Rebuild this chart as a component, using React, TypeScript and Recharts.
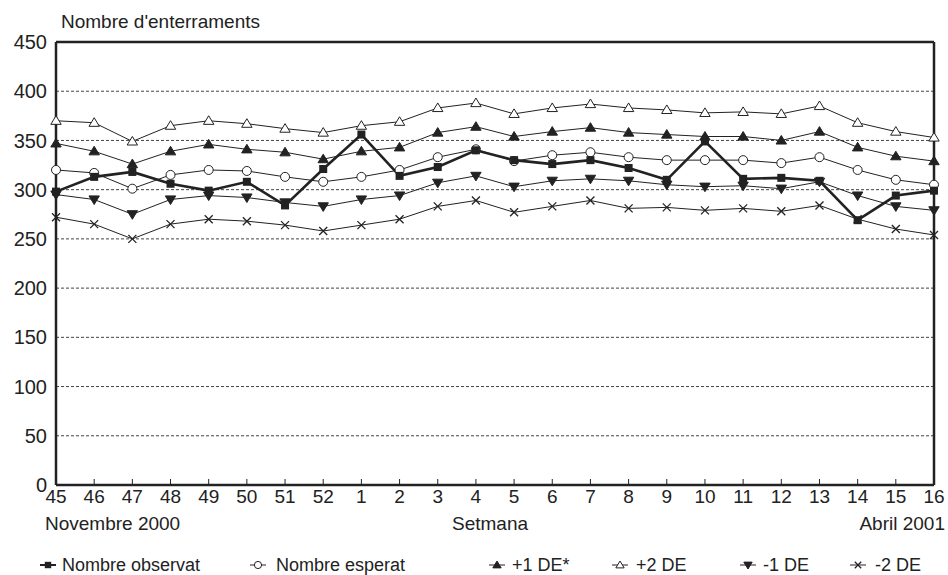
import React from "react";
import {
  LineChart,
  Line,
  XAxis,
  YAxis,
  CartesianGrid,
  ReferenceLine,
} from "recharts";

const weeks = ["45", "46", "47", "48", "49", "50", "51", "52", "1", "2", "3", "4", "5", "6", "7", "8", "9", "10", "11", "12", "13", "14", "15", "16"];
const observed = [298, 313, 318, 306, 299, 308, 284, 321, 356, 314, 323, 340, 330, 326, 330, 322, 310, 349, 311, 312, 309, 269, 294, 299];
const expected = [320, 317, 301, 315, 320, 319, 313, 308, 313, 320, 333, 341, 329, 335, 338, 333, 330, 330, 330, 327, 333, 320, 310, 305];
const plus1 = [347, 339, 326, 339, 346, 341, 338, 331, 339, 343, 358, 364, 354, 359, 363, 358, 356, 354, 354, 350, 359, 343, 334, 329];
const plus2 = [370, 368, 349, 365, 370, 367, 362, 358, 365, 369, 383, 388, 377, 383, 387, 383, 381, 378, 379, 377, 385, 368, 359, 353];
const minus1 = [295, 290, 275, 290, 294, 292, 287, 283, 290, 294, 307, 314, 303, 309, 311, 309, 305, 303, 304, 301, 308, 294, 283, 279];
const minus2 = [272, 265, 250, 265, 270, 268, 264, 258, 264, 270, 283, 289, 277, 283, 289, 281, 282, 279, 281, 278, 284, 270, 260, 254];
const yTicks = [0, 50, 100, 150, 200, 250, 300, 350, 400, 450];

const data = weeks.map((w, i) => ({
  week: w,
  observed: observed[i],
  expected: expected[i],
  plus1: plus1[i],
  plus2: plus2[i],
  minus1: minus1[i],
  minus2: minus2[i],
}));

type Kind = "square" | "circle" | "triUp" | "triUpOpen" | "triDown" | "cross";

const INK = "#222";
const FONT = "'Liberation Sans', Arial, sans-serif";

function Marker({ cx, cy, kind, s = 1 }: { cx: number; cy: number; kind: Kind; s?: number }) {
  if (cx == null || cy == null) return null;
  switch (kind) {
    case "square":
      return <rect x={cx - 4 * s} y={cy - 4 * s} width={8 * s} height={8 * s} fill={INK} />;
    case "circle":
      return <circle cx={cx} cy={cy} r={4.5 * s} fill="#fff" stroke={INK} strokeWidth={1} />;
    case "triUp":
    case "triUpOpen":
      return (
        <polygon
          points={`${cx},${cy - 5 * s} ${cx - 5.2 * s},${cy + 3.6 * s} ${cx + 5.2 * s},${cy + 3.6 * s}`}
          fill={kind === "triUp" ? INK : "#fff"}
          stroke={INK}
          strokeWidth={1}
        />
      );
    case "triDown":
      return (
        <polygon
          points={`${cx},${cy + 5 * s} ${cx - 5.2 * s},${cy - 3.6 * s} ${cx + 5.2 * s},${cy - 3.6 * s}`}
          fill={INK}
          stroke={INK}
          strokeWidth={1}
        />
      );
    case "cross":
      return (
        <path
          d={`M${cx - 4 * s},${cy - 4 * s}L${cx + 4 * s},${cy + 4 * s}M${cx + 4 * s},${cy - 4 * s}L${cx - 4 * s},${cy + 4 * s}`}
          stroke={INK}
          strokeWidth={1.3}
        />
      );
  }
  return null;
}

const dotFor = (kind: Kind) => (p: any) => <Marker key={`${kind}-${p.index}`} cx={p.cx} cy={p.cy} kind={kind} />;

const series: { key: string; name: string; kind: Kind; width: number }[] = [
  { key: "minus2", name: "-2 DE", kind: "cross", width: 1 },
  { key: "minus1", name: "-1 DE", kind: "triDown", width: 1 },
  { key: "plus2", name: "+2 DE", kind: "triUpOpen", width: 1 },
  { key: "plus1", name: "+1 DE*", kind: "triUp", width: 1 },
  { key: "expected", name: "Nombre esperat", kind: "circle", width: 1 },
  { key: "observed", name: "Nombre observat", kind: "square", width: 2.6 },
];

const legendItems: { name: string; kind: Kind; mark: number; text: number }[] = [
  { name: "Nombre observat", kind: "square", mark: 48, text: 62 },
  { name: "Nombre esperat", kind: "circle", mark: 258, text: 276 },
  { name: "+1 DE*", kind: "triUp", mark: 497, text: 512 },
  { name: "+2 DE", kind: "triUpOpen", mark: 620, text: 636 },
  { name: "-1 DE", kind: "triDown", mark: 748, text: 763 },
  { name: "-2 DE", kind: "cross", mark: 858, text: 875 },
];

const textStyle: React.CSSProperties = {
  position: "absolute",
  fontFamily: FONT,
  fontSize: 19,
  lineHeight: "22px",
  color: "#222",
  whiteSpace: "nowrap",
};

export default function App() {
  return (
    <div style={{ position: "fixed", left: 0, top: 0, width: 948, height: 575, overflow: "hidden", background: "#fff" }}>
      <LineChart width={948} height={575} data={data} margin={{ top: 42, right: 14, bottom: 60, left: 0 }}>
        <CartesianGrid vertical={false} stroke="#444" strokeDasharray="3 2" />
        <XAxis
          dataKey="week"
          interval={0}
          height={30}
          axisLine={{ stroke: INK, strokeWidth: 2.5 }}
          tickLine={{ stroke: INK, strokeWidth: 1 }}
          tickSize={-6}
          tickMargin={11}
          tick={{ fill: INK, fontSize: 19, fontFamily: FONT }}
        />
        <YAxis
          domain={[0, 450]}
          ticks={yTicks}
          width={56}
          axisLine={{ stroke: INK, strokeWidth: 2.5 }}
          tickLine={false}
          tickSize={0}
          tickMargin={9}
          tick={{ fill: INK, fontSize: 20, fontFamily: FONT }}
        />
        <ReferenceLine y={450} stroke={INK} strokeWidth={2.5} />
        <ReferenceLine x="16" stroke={INK} strokeWidth={2.5} />
        {series.map((s) => (
          <Line
            key={s.key}
            type="linear"
            dataKey={s.key}
            name={s.name}
            stroke={INK}
            strokeWidth={s.width}
            dot={dotFor(s.kind)}
            activeDot={false}
            isAnimationActive={false}
          />
        ))}
      </LineChart>

      <div style={{ ...textStyle, left: 61, top: 11 }}>Nombre d'enterraments</div>
      <div style={{ ...textStyle, left: 45, top: 513 }}>Novembre 2000</div>
      <div style={{ ...textStyle, left: 490, top: 513, transform: "translateX(-50%)" }}>Setmana</div>
      <div style={{ ...textStyle, right: 3, top: 513 }}>Abril 2001</div>

      {legendItems.map((it) => (
        <React.Fragment key={it.name}>
          <svg
            width={20}
            height={14}
            style={{ position: "absolute", left: it.mark - 10, top: 558 }}
          >
            <line x1={2} y1={7} x2={18} y2={7} stroke={INK} strokeWidth={it.kind === "square" ? 2 : 1} />
            <Marker cx={10} cy={7} kind={it.kind} s={0.8} />
          </svg>
          <div style={{ ...textStyle, fontSize: 18, left: it.text, top: 554 }}>{it.name}</div>
        </React.Fragment>
      ))}
    </div>
  );
}
